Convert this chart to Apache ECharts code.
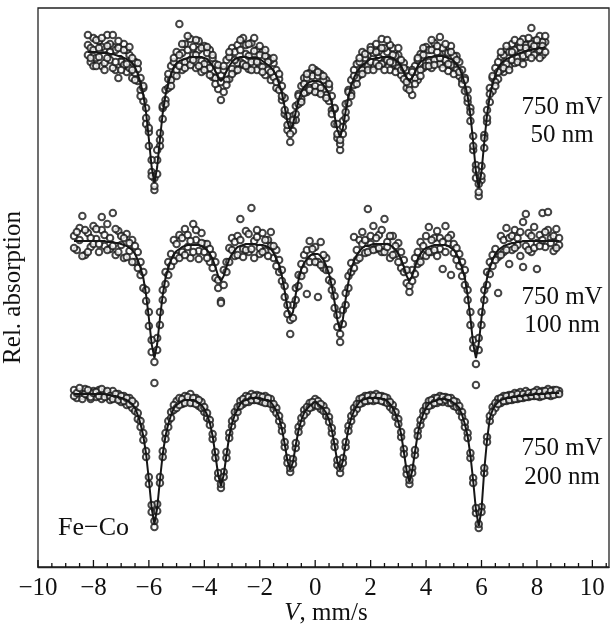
<!DOCTYPE html>
<html>
<head>
<meta charset="utf-8">
<script src="https://cdn.jsdelivr.net/npm/echarts@6/dist/echarts.min.js"></script>
<style>
  html, body { margin: 0; padding: 0; background: #fff; }
  #chart { width: 616px; height: 629px; }
</style>
</head>
<body>
<div id="chart"></div>
<script>
// velocity channels, mm/s
var V = [
  -8.7,-8.6,-8.5,-8.4,-8.3,-8.2,-8.1,-8.0,
  -7.9,-7.8,-7.7,-7.6,-7.5,-7.4,-7.3,-7.2,-7.1,-7.0,
  -6.9,-6.8,-6.7,-6.6,-6.5,-6.4,-6.3,-6.2,-6.1,-6.0,
  -5.9,-5.8,-5.7,-5.6,-5.5,-5.4,-5.3,-5.2,-5.1,-5.0,
  -4.9,-4.8,-4.7,-4.6,-4.5,-4.4,-4.3,-4.2,-4.1,-4.0,
  -3.9,-3.8,-3.7,-3.6,-3.5,-3.4,-3.3,-3.2,-3.1,-3.0,
  -2.9,-2.8,-2.7,-2.6,-2.5,-2.4,-2.3,-2.2,-2.1,-2.0,
  -1.9,-1.8,-1.7,-1.6,-1.5,-1.4,-1.3,-1.2,-1.1,-1.0,
  -0.9,-0.8,-0.7,-0.6,-0.5,-0.4,-0.3,-0.2,-0.1,0.0,
  0.1,0.2,0.3,0.4,0.5,0.6,0.7,0.8,0.9,1.0,
  1.1,1.2,1.3,1.4,1.5,1.6,1.7,1.8,1.9,2.0,
  2.1,2.2,2.3,2.4,2.5,2.6,2.7,2.8,2.9,3.0,
  3.1,3.2,3.3,3.4,3.5,3.6,3.7,3.8,3.9,4.0,
  4.1,4.2,4.3,4.4,4.5,4.6,4.7,4.8,4.9,5.0,
  5.1,5.2,5.3,5.4,5.5,5.6,5.7,5.8,5.9,6.0,
  6.1,6.2,6.3,6.4,6.5,6.6,6.7,6.8,6.9,7.0,
  7.1,7.2,7.3,7.4,7.5,7.6,7.7,7.8,7.9,8.0,
  8.1,8.2,8.3,8.4,8.5,8.6,8.7,8.8
]

// relative absorption (arbitrary units, larger = lower on the plot)
// 50 nm
var FIT_50 = [
  null,null,null,null,null,52,52,52,
  52,53,53,53,53,54,54,55,56,56,
  58,59,61,63,67,74,83,95,113,139,
  167,183,167,139,113,95,83,74,67,63,
  61,60,59,58,57,57,57,57,57,58,
  59,62,66,71,78,81,78,71,66,62,
  59,58,57,57,57,58,58,58,58,59,
  61,63,65,67,71,76,84,93,107,122,
  130,124,112,100,92,87,84,82,81,81,
  81,82,85,89,94,103,116,130,137,128,
  111,97,86,78,72,68,65,63,61,59,
  59,58,58,57,57,57,57,58,60,62,
  66,72,78,81,78,72,66,62,60,58,
  57,57,56,56,56,56,57,58,59,61,
  64,68,75,84,96,115,142,172,188,172,
  142,115,96,84,75,68,64,61,59,58,
  56,55,54,53,52,51,50,50,49,49,
  48,48,47,null,null,null,null,null
]
var PTS_50_A = [
  null,null,null,null,null,45,62,38,
  58,41,66,49,35,60,47,70,78,61,
  44,72,55,78,62,81,90,101,108,146,
  172,190,160,133,119,90,88,66,75,52,
  24,70,44,63,39,55,68,50,72,46,
  65,50,77,64,89,75,92,60,79,48,
  71,45,62,38,54,69,43,60,50,66,
  52,75,58,80,63,88,79,100,98,130,
  142,116,120,94,99,78,92,73,88,70,
  92,74,90,80,101,96,124,138,150,121,
  118,90,93,70,64,75,52,68,55,47,
  66,44,58,39,62,52,70,48,65,55,
  75,63,88,76,95,66,80,54,68,47,
  50,68,43,60,37,64,52,71,46,67,
  56,76,70,91,102,108,150,165,196,180,
  135,122,88,91,68,79,57,72,50,66,
  44,63,48,60,39,57,45,28,41,53,
  36,55,42,null,null,null,null,null
]
var PTS_50_B = [
  null,null,null,null,null,55,48,66,
  40,57,47,63,58,44,68,50,41,62,
  65,50,68,58,73,69,78,88,118,132,
  160,178,174,146,108,100,79,80,62,70,
  66,53,62,50,60,47,55,41,61,64,
  53,68,58,78,70,100,70,80,57,69,
  52,63,50,65,45,56,62,51,70,55,
  67,56,70,60,77,70,90,86,114,116,
  125,131,106,104,86,93,78,88,76,86,
  76,88,80,95,88,110,109,124,144,134,
  104,103,80,85,78,62,70,58,66,62,
  53,63,51,64,48,60,45,63,56,68,
  60,79,70,85,70,78,60,70,55,63,
  62,50,60,52,64,48,60,53,65,56,
  70,62,80,78,90,121,136,178,184,166,
  148,110,102,78,82,62,70,55,64,52,
  60,50,58,47,56,45,54,44,55,46,
  50,42,52,null,null,null,null,null
]
var PTS_50_C = [
  null,null,null,null,null,35,58,50,
  66,48,38,70,46,52,35,62,48,70,
  50,64,47,70,80,63,96,86,124,128,
  176,186,150,140,106,104,74,86,58,76,
  55,44,68,36,65,60,40,66,48,70,
  47,75,55,84,65,82,66,85,52,74,
  60,70,40,64,66,44,70,38,62,46,
  72,50,62,72,58,82,74,96,110,125,
  134,120,114,96,102,84,74,90,68,92,
  72,94,76,98,84,114,108,134,140,127,
  112,92,96,76,84,58,74,54,70,50,
  70,52,66,48,70,40,62,55,72,48,
  70,68,82,90,72,84,58,76,48,66,
  66,40,65,46,58,68,44,64,52,74,
  60,72,84,80,98,112,146,170,192,176,
  138,118,94,76,86,72,52,68,46,70,
  52,40,62,42,64,48,38,58,46,40,
  58,46,36,null,null,null,null,null
]

// 100 nm
var FIT_100 = [
  241,241,241,241,241,241,241,241,
  241,241,241,241,242,242,242,243,243,244,
  245,246,248,250,254,260,268,278,295,318,
  344,358,344,318,295,278,268,260,254,251,
  249,247,246,245,245,245,245,245,246,248,
  250,254,259,267,276,281,276,267,259,254,
  250,247,246,245,244,244,244,244,245,245,
  245,246,247,249,253,259,265,276,291,308,
  317,312,294,280,269,263,259,256,254,254,
  254,256,260,266,274,286,302,320,331,319,
  299,282,269,261,255,251,248,246,246,245,
  244,244,244,244,244,244,245,247,250,254,
  259,267,276,281,276,267,259,254,250,248,
  247,246,245,245,245,245,245,246,248,250,
  254,260,268,278,295,318,344,358,344,318,
  295,278,268,260,254,250,248,246,245,244,
  243,243,242,242,241,241,241,241,241,241,
  241,241,241,241,241,241,241,241
]
var PTS_100_A = [
  236,250,228,216,255,233,247,226,
  239,252,230,246,224,249,213,255,231,245,
  258,234,251,240,262,252,275,272,301,312,
  352,362,338,325,290,284,262,266,240,256,
  235,252,229,247,258,224,240,251,233,244,
  244,262,255,278,288,301,270,262,248,238,
  256,236,219,249,231,252,208,241,237,254,
  233,251,240,232,258,250,272,270,297,314,
  334,305,300,275,276,255,294,241,258,247,
  262,242,268,258,280,290,296,327,342,310,
  305,276,263,237,250,240,232,253,209,244,
  226,249,235,252,219,242,258,236,254,243,
  268,260,283,286,270,258,264,242,255,236,
  227,252,238,231,249,269,226,243,235,253,
  260,254,276,270,300,325,340,364,350,312,
  290,285,262,266,249,257,236,252,228,264,
  250,230,245,256,222,214,233,252,227,243,
  235,213,247,230,238,251,229,245
]
var PTS_100_B = [
  248,232,240,256,230,252,238,244,
  229,244,217,235,250,238,246,229,252,236,
  238,257,243,262,246,268,262,288,290,326,
  340,383,350,312,300,272,275,254,261,244,
  258,238,255,235,241,252,230,259,243,252,
  258,249,268,262,280,303,285,272,262,250,
  242,255,240,257,250,234,249,258,230,248,
  252,240,256,246,246,266,260,281,286,305,
  320,318,288,286,264,270,250,262,249,262,
  297,265,255,270,270,282,308,315,334,324,
  293,288,272,268,260,258,244,240,252,236,
  250,238,248,230,252,247,236,255,246,262,
  252,272,270,292,281,274,252,262,246,256,
  252,240,250,256,238,242,252,238,275,244,
  248,266,262,285,290,312,348,385,338,325,
  300,272,274,255,260,293,255,240,250,238,
  236,248,238,232,267,246,250,236,248,269,
  246,240,232,212,243,236,248,238
]

// 200 nm
var FIT_200 = [
  394,394,394,394,394,394,394,394,
  394,394,394,394,395,395,396,396,397,398,
  399,400,402,404,408,415,424,436,454,480,
  508,524,508,480,454,436,424,415,408,405,
  403,401,400,400,400,400,401,403,405,409,
  415,423,436,455,475,486,475,455,436,423,
  415,409,404,401,400,399,398,398,398,398,
  399,400,400,402,406,411,418,429,444,461,
  470,462,445,430,420,413,409,406,404,402,
  404,406,409,413,420,430,445,462,470,461,
  444,429,418,411,406,402,400,399,398,398,
  398,398,398,399,399,401,404,408,414,422,
  434,452,471,482,471,452,434,422,414,408,
  404,402,401,400,399,399,399,400,401,403,
  405,408,415,424,436,455,481,510,526,510,
  470,440,418,410,405,402,400,399,398,398,
  397,397,396,396,396,395,395,395,394,394,
  394,394,394,393,393,393,393,393
]
var PTS_200_A = [
  390,398,392,396,389,395,399,391,
  397,390,399,392,394,400,391,398,394,402,
  396,405,398,408,404,419,421,440,451,484,
  512,527,504,477,457,433,427,412,410,401,
  398,404,396,401,394,403,398,406,402,412,
  418,420,439,452,478,488,472,458,433,426,
  412,412,401,404,396,402,394,400,395,401,
  402,396,403,399,409,408,421,426,447,458,
  472,459,448,427,423,410,412,403,407,399,
  401,409,406,416,417,433,442,465,473,458,
  447,426,421,408,409,399,403,396,401,395,
  401,394,400,396,402,398,407,405,417,419,
  437,449,474,484,468,455,431,425,411,411,
  401,405,398,403,396,402,397,403,398,406,
  402,411,412,427,433,458,478,513,528,507,
  473,437,421,407,408,399,403,396,401,395,
  400,393,399,392,398,391,397,393,396,390,
  397,391,395,389,396,390,394,391
]
var PTS_200_B = [
  396,393,388,399,394,390,397,393,
  392,396,389,397,391,396,399,394,400,396,
  401,398,404,401,411,413,427,433,457,477,
  505,521,511,483,451,439,421,418,405,408,
  405,399,403,397,403,398,404,400,408,407,
  413,425,434,458,473,484,477,452,438,421,
  418,407,406,399,402,397,400,396,400,396,
  397,403,398,404,404,413,416,431,442,463,
  468,464,443,432,418,415,407,408,402,405,
  406,404,411,411,422,428,447,460,468,463,
  442,431,416,413,404,404,398,401,396,400,
  396,400,396,401,397,403,402,410,412,424,
  432,454,469,480,473,450,436,420,416,406,
  406,400,403,398,401,397,400,398,403,401,
  407,406,417,422,438,453,483,508,524,512,
  468,442,416,412,403,404,398,401,396,400,
  395,399,394,398,394,397,393,396,392,396,
  392,396,391,395,391,395,390,394
]

// x axis tick values
var MAJOR_TICKS = [-10, -8, -6, -4, -2, 0, 2, 4, 6, 8, 10]
var MINOR_TICKS = [-9.5, -9, -8.5, -7.5, -7, -6.5, -5.5, -5, -4.5, -3.5, -3, -2.5,
  -1.5, -1, -0.5, 0.5, 1, 1.5, 2.5, 3, 3.5, 4.5, 5, 5.5, 6.5, 7, 7.5, 8.5, 9, 9.5, 10.5]
var X_MIN = -10
var X_MAX = 10.6
var Y_MIN = 8
var Y_MAX = 567

var X_TITLE = '{i|V}, mm/s'
var LABELS = ['750 mV\n50 nm', '750 mV\n100 nm', '750 mV\n200 nm']
var SAMPLE = 'Fe\u2212Co'

var FONT = 'Liberation Serif'
var INK = '#161616'

function pairs(ys) {
  var out = []
  for (var i = 0; i < V.length; i++) {
    if (ys[i] !== null && ys[i] !== undefined) out.push([V[i], ys[i]])
  }
  return out
}

function dots(ys) {
  return {
    type: 'scatter',
    data: pairs(ys),
    symbol: 'emptyCircle',
    symbolSize: 6.5,
    itemStyle: { color: INK, borderColor: INK, borderWidth: 1.5 },
    z: 2
  }
}

function fit(ys) {
  return {
    type: 'line',
    data: pairs(ys),
    showSymbol: false,
    lineStyle: { color: INK, width: 2 },
    z: 3
  }
}

// short inward ticks standing on the bottom axis, placed through the x scale
function ticks(values, len) {
  return {
    type: 'custom',
    silent: true,
    z: 4,
    data: values.map(function (v) { return [v, Y_MAX] }),
    renderItem: function (params, api) {
      var p = api.coord([api.value(0), api.value(1)])
      return {
        type: 'line',
        shape: { x1: p[0], y1: p[1], x2: p[0], y2: p[1] - len },
        style: { stroke: '#111', lineWidth: 1.3 }
      }
    }
  }
}

var chart = echarts.init(document.getElementById('chart'))
var option = {
  animation: false,
  grid: {
    left: 38, right: 7, top: 8, bottom: 62, outerBoundsMode: 'none',
    show: true, borderColor: '#222', borderWidth: 1.3
  },
  xAxis: {
    type: 'value', min: X_MIN, max: X_MAX, interval: 2,
    axisLine: { show: true, lineStyle: { color: '#222', width: 1.3 } },
    axisTick: { show: false },
    axisLabel: {
      showMaxLabel: false, margin: 9, color: '#111', fontFamily: FONT, fontSize: 25,
      formatter: function (v) { return v < 0 ? '\u2212' + Math.abs(v) : String(v) }
    },
    splitLine: { show: false }
  },
  yAxis: {
    type: 'value', inverse: true, min: Y_MIN, max: Y_MAX,
    name: 'Rel. absorption',
    nameLocation: 'middle',
    nameRotate: 90,
    nameGap: 12,
    nameTextStyle: { color: '#111', fontFamily: FONT, fontSize: 25 },
    axisLine: { show: false },
    axisTick: { show: false },
    axisLabel: { show: false },
    splitLine: { show: false }
  },
  series: [
    dots(PTS_50_A), dots(PTS_50_B), dots(PTS_50_C), fit(FIT_50),
    dots(PTS_100_A), dots(PTS_100_B), fit(FIT_100),
    dots(PTS_200_A), dots(PTS_200_B), fit(FIT_200),
    ticks(MAJOR_TICKS, 7), ticks(MINOR_TICKS, 4)
  ],
  graphic: [
    { type: 'text', x: 326, y: 613, style: { text: X_TITLE, font: '25px ' + FONT, fill: '#111', align: 'center', verticalAlign: 'middle',
      rich: { i: { fontStyle: 'italic', fontFamily: FONT, fontSize: 25, fill: '#111' } } } },
    { type: 'text', x: 562, y: 121, style: { text: LABELS[0], font: '25px ' + FONT, fill: '#111', align: 'center', verticalAlign: 'middle', lineHeight: 28 } },
    { type: 'text', x: 562, y: 311, style: { text: LABELS[1], font: '25px ' + FONT, fill: '#111', align: 'center', verticalAlign: 'middle', lineHeight: 28 } },
    { type: 'text', x: 562, y: 463, style: { text: LABELS[2], font: '25px ' + FONT, fill: '#111', align: 'center', verticalAlign: 'middle', lineHeight: 29 } },
    { type: 'text', x: 58, y: 528, style: { text: SAMPLE, font: '26px ' + FONT, fill: '#111', align: 'left', verticalAlign: 'middle' } }
  ]
}
chart.setOption(option)
</script>
</body>
</html>
